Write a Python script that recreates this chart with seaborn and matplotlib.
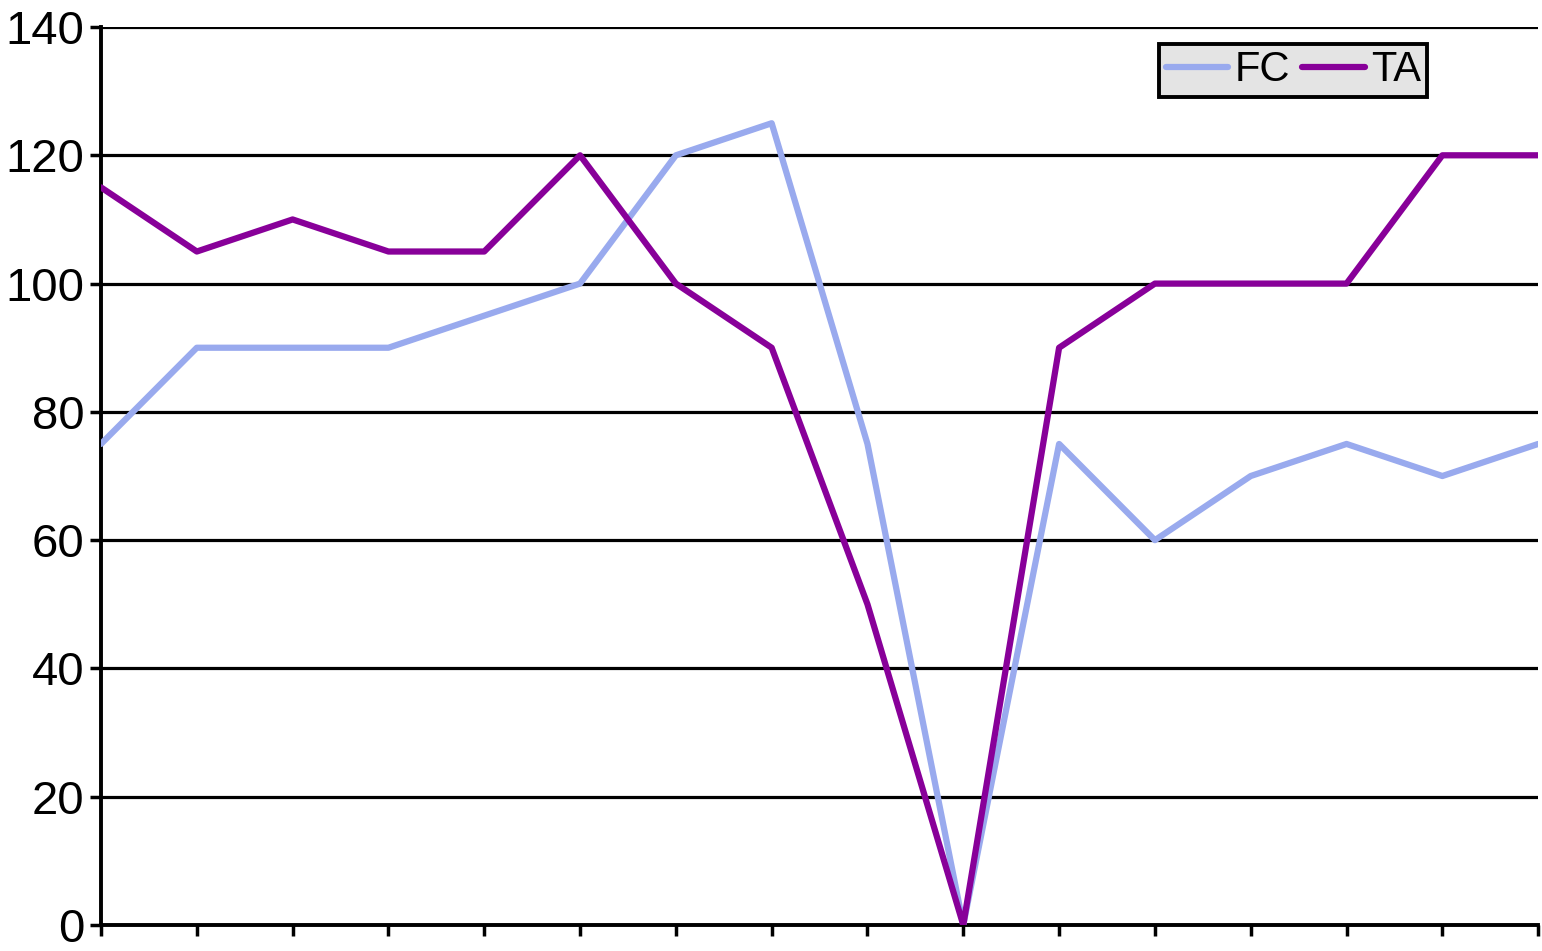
import pandas as pd
import seaborn as sns
import matplotlib.pyplot as plt

# values
points = list(range(16))
fc = [75, 90, 90, 90, 95, 100, 120, 125, 75, 0, 75, 60, 70, 75, 70, 75]
ta = [115, 105, 110, 105, 105, 120, 100, 90, 50, 0, 90, 100, 100, 100, 120, 120]
series_names = ['FC', 'TA']
colors = {'FC': '#99aaee', 'TA': '#880099'}
y_ticks = [0, 20, 40, 60, 80, 100, 120, 140]

df = pd.DataFrame({
    'point': points * 2,
    'value': fc + ta,
    'series': ['FC'] * len(fc) + ['TA'] * len(ta),
})

sns.set_style('white')
plt.rcParams['font.family'] = ['Liberation Sans', 'DejaVu Sans']
plt.rcParams['text.color'] = 'black'
plt.rcParams['ytick.color'] = 'black'
plt.rcParams['xtick.color'] = 'black'

fig = plt.figure(figsize=(15.42, 9.51), dpi=100)
ax = fig.add_axes([0.0655, 0.0273, 0.932, 0.9443])

sns.lineplot(data=df, x='point', y='value', hue='series', hue_order=series_names,
             palette=colors, linewidth=4.5, ax=ax, zorder=3)
for line in ax.lines:
    line.set_linewidth(4.5)   # make sure the data lines are thick like the original

ax.set_xlim(0, 15)
ax.set_ylim(0, 140)
ax.set_yticks(y_ticks)
ax.set_xticks(points)
ax.set_xticklabels([])
ax.set_xlabel('')
ax.set_ylabel('')
ax.yaxis.grid(True, color='black', linewidth=2.3)
ax.set_axisbelow(True)

for side in ['top', 'right']:
    ax.spines[side].set_visible(False)
for side in ['left', 'bottom']:
    ax.spines[side].set_color('black')
    ax.spines[side].set_linewidth(2.8)

ax.tick_params(axis='y', labelsize=34, labelcolor='black', length=8, width=2.5,
               direction='out', left=True, pad=4)
ax.tick_params(axis='x', length=8, width=2.5, direction='out', bottom=True)

leg = ax.legend(loc='upper left', bbox_to_anchor=(0.7365, 0.981), ncol=2, fontsize=30,
                frameon=True, fancybox=False, handlelength=1.5, handletextpad=0.15,
                columnspacing=0.3, borderpad=0.15, borderaxespad=0)
leg.get_frame().set_facecolor('#e4e4e4')
leg.get_frame().set_edgecolor('black')
leg.get_frame().set_linewidth(2.8)
leg.get_frame().set_alpha(1)
for line in leg.get_lines():
    line.set_linewidth(4.5)
for text in leg.get_texts():
    text.set_color('black')

fig.savefig('out.png', dpi=100)
